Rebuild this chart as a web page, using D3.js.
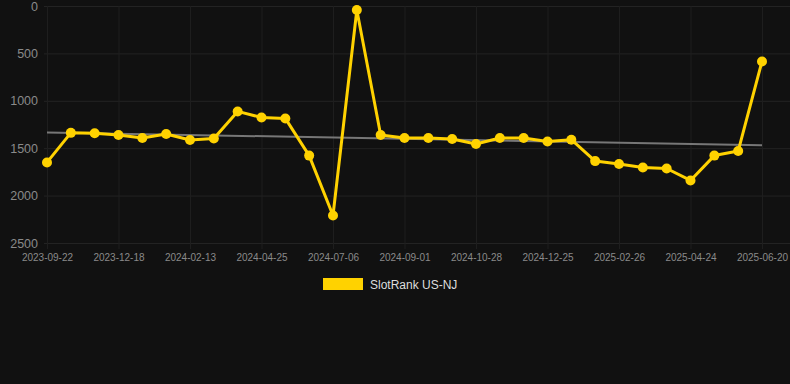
<!DOCTYPE html>
<meta charset="utf-8">
<script src="https://d3js.org/d3.v7.min.js"></script>
<style>
  body { margin: 0; background: #111111; font-family: Arial, "Liberation Sans", sans-serif; }
</style>
<div id="chart"></div>
<script>
// categories (one per point), only every third one is labelled
var dates = [
  "2023-09-22", "2023-10-21", "2023-11-19", "2023-12-18", "2024-01-06", "2024-01-25",
  "2024-02-13", "2024-03-07", "2024-04-01", "2024-04-25", "2024-05-19", "2024-06-12",
  "2024-07-06", "2024-07-25", "2024-08-13", "2024-09-01", "2024-09-20", "2024-10-09",
  "2024-10-28", "2024-11-16", "2024-12-05", "2024-12-25", "2025-01-15", "2025-02-05",
  "2025-02-26", "2025-03-17", "2025-04-05", "2025-04-24", "2025-05-13", "2025-06-01",
  "2025-06-20"
];
var ranks = [
  1650, 1338, 1342, 1360, 1392, 1350, 1413, 1398, 1112, 1176, 1186, 1578,
  2210, 42, 1360, 1392, 1392, 1403, 1455, 1392, 1392, 1430, 1410, 1636,
  1666, 1703, 1714, 1840, 1578, 1530, 585
];
var yTicks = [0, 500, 1000, 1500, 2000, 2500];
var seriesName = "SlotRank US-NJ";

var W = 790, H = 384;
var margin = {top: 6, right: 28, bottom: 141, left: 47};

var svg = d3.select("#chart").append("svg")
  .attr("width", W).attr("height", H);

var x = d3.scalePoint()
  .domain(dates)
  .range([margin.left, W - margin.right]);

var y = d3.scaleLinear()
  .domain([0, 2500])
  .range([margin.top, H - margin.bottom]);

// grid
svg.append("g")
  .selectAll("line")
  .data(yTicks)
  .join("line")
    .attr("x1", 44).attr("x2", W)
    .attr("y1", function(d) { return y(d) + 0.5; })
    .attr("y2", function(d) { return y(d) + 0.5; })
    .style("stroke", "#232323");

var labelled = dates.filter(function(d, i) { return i % 3 === 0; });
svg.append("g")
  .selectAll("line")
  .data(labelled)
  .join("line")
    .attr("x1", function(d) { return x(d) + 0.5; })
    .attr("x2", function(d) { return x(d) + 0.5; })
    .attr("y1", margin.top).attr("y2", y(2500) + 6)
    .style("stroke", "#1e1e1e");

// y axis
var yAxis = svg.append("g")
  .attr("transform", "translate(38,0)")
  .call(d3.axisLeft(y).tickValues(yTicks).tickFormat(d3.format("d")).tickSize(0).tickPadding(0));
yAxis.select(".domain").remove();
yAxis.selectAll("text")
  .style("font-size", "12.5px")
  .style("fill", "#8a8a8a")
  .style("font-family", "Arial, 'Liberation Sans', sans-serif");

// x axis
var xAxis = svg.append("g")
  .attr("transform", "translate(0," + (y(2500) + 6) + ")")
  .call(d3.axisBottom(x).tickValues(labelled).tickSize(0).tickPadding(5));
xAxis.select(".domain").remove();
xAxis.selectAll("text")
  .style("font-size", "10px")
  .style("fill", "#8a8a8a")
  .style("font-family", "Arial, 'Liberation Sans', sans-serif");

// trend line (least squares)
var n = ranks.length;
var mx = d3.mean(ranks, function(d, i) { return i; });
var my = d3.mean(ranks);
var sxy = d3.sum(ranks, function(d, i) { return (i - mx) * (d - my); });
var sxx = d3.sum(ranks, function(d, i) { return (i - mx) * (i - mx); });
var slope = sxy / sxx;
var b = my - slope * mx;
svg.append("line")
  .attr("x1", x(dates[0])).attr("y1", y(b))
  .attr("x2", x(dates[n - 1])).attr("y2", y(b + slope * (n - 1)))
  .style("stroke", "#777777")
  .style("stroke-width", 2);

// series
var line = d3.line()
  .x(function(d, i) { return x(dates[i]); })
  .y(function(d) { return y(d); });

svg.append("path")
  .datum(ranks)
  .attr("d", line)
  .style("fill", "none")
  .style("stroke", "#FFD200")
  .style("stroke-width", 3)
  .style("stroke-linejoin", "round");

svg.append("g")
  .selectAll("circle")
  .data(ranks)
  .join("circle")
    .attr("cx", function(d, i) { return x(dates[i]); })
    .attr("cy", function(d) { return y(d); })
    .attr("r", 5)
    .style("fill", "#FFD200");

// legend
var legend = svg.append("g").attr("transform", "translate(323,278)");
legend.append("rect")
  .attr("width", 40).attr("height", 12)
  .style("fill", "#FFD200");
legend.append("text")
  .attr("x", 47).attr("y", 10.5)
  .style("font-size", "12px")
  .style("fill", "#dddddd")
  .text(seriesName);
</script>
